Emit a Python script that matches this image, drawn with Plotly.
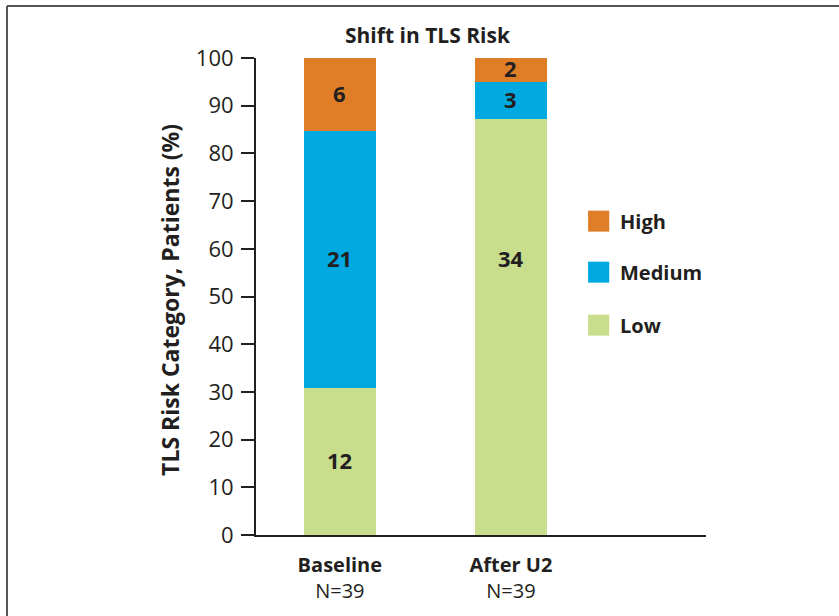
import plotly.graph_objects as go

# Patient counts by TLS risk category
categories = ["Baseline", "After U2"]
n_patients = [39, 39]
risk_levels = ["Low", "Medium", "High"]
counts = {
    "Low": [12, 34],
    "Medium": [21, 3],
    "High": [6, 2],
}
colors = {"Low": "#C8DE8C", "Medium": "#00A9DF", "High": "#E07E28"}

TEXT = "#231F20"
FONT = "Open Sans"

fig = go.Figure()

# percentage of patients in each risk category
pct = {lvl: [c / n * 100 for c, n in zip(counts[lvl], n_patients)] for lvl in risk_levels}

for lvl in risk_levels:
    fig.add_trace(go.Bar(
        x=categories, y=pct[lvl], name=lvl,
        marker=dict(color=colors[lvl], line=dict(width=0)),
        width=0.42, showlegend=False, hoverinfo="skip",
    ))

# segment centres for the count labels
centres = {}
for i, cat in enumerate(categories):
    base = 0
    for lvl in risk_levels:
        h = pct[lvl][i]
        centres[(cat, lvl)] = base + h / 2
        base += h
# the tall Low segment of the second bar carries its label level with the
# Baseline Medium label
centres[("After U2", "Low")] = centres[("Baseline", "Medium")]

for i, cat in enumerate(categories):
    for lvl in risk_levels:
        fig.add_annotation(
            x=cat, y=centres[(cat, lvl)], xref="x", yref="y",
            text=f"<b>{counts[lvl][i]}</b>", showarrow=False, yshift=2,
            font=dict(family=FONT, size=22, color=TEXT),
        )

# legend: coloured squares with labels, High on top
legend_rows = ["High", "Medium", "Low"]
leg_y = [0.658, 0.551, 0.440]
for lvl, yy in zip(legend_rows, leg_y):
    fig.add_shape(type="rect", xref="paper", yref="paper",
                  x0=0.738, x1=0.785, y0=yy - 0.022, y1=yy + 0.022,
                  fillcolor=colors[lvl], line=dict(width=0))
    fig.add_annotation(x=0.804, y=yy, xref="paper", yref="paper",
                       text=f"<b>{lvl}</b>", showarrow=False,
                       xanchor="left", yanchor="middle",
                       font=dict(family=FONT, size=20, color=TEXT))

# chart title
fig.add_annotation(x=0.382, y=1.048, xref="paper", yref="paper",
                   text="<b>Shift in TLS Risk</b>", showarrow=False,
                   xanchor="center", yanchor="middle",
                   font=dict(family=FONT, size=21, color=TEXT))

# y-axis title
fig.add_annotation(x=-0.191, y=0.493, xref="paper", yref="paper",
                   text="<b>TLS Risk Category, Patients (%)</b>", showarrow=False,
                   textangle=-90, xanchor="center", yanchor="middle",
                   font=dict(family=FONT, size=23, color=TEXT))

# frame lines along the top and left edges
fig.add_shape(type="line", xref="paper", yref="paper",
              x0=-0.5533, x1=1.4, y0=1.109, y1=1.109,
              line=dict(color="#555555", width=2))
fig.add_shape(type="line", xref="paper", yref="paper",
              x0=-0.5533, x1=-0.5533, y0=1.109, y1=-0.3,
              line=dict(color="#555555", width=2))

ticktext = [f"<b>{c}</b><br>N={n}" for c, n in zip(categories, n_patients)]

fig.update_layout(
    width=839, height=616,
    margin=dict(l=256, r=133, t=58, b=81),
    paper_bgcolor="white", plot_bgcolor="white",
    barmode="stack", bargap=0,
    font=dict(family=FONT, color=TEXT),
    xaxis=dict(
        type="category", range=[-0.49, 2.14],
        tickmode="array", tickvals=categories, ticktext=ticktext,
        tickfont=dict(family=FONT, size=20, color=TEXT),
        showline=True, linecolor=TEXT, linewidth=2,
        ticks="", showgrid=False, zeroline=False,
        ticklabelstandoff=11,
    ),
    yaxis=dict(
        range=[0, 100], tickvals=list(range(0, 101, 10)),
        tickfont=dict(family=FONT, size=22, color=TEXT),
        showline=True, linecolor=TEXT, linewidth=2,
        ticks="outside", ticklen=13, tickwidth=2, tickcolor=TEXT,
        showgrid=False, zeroline=False,
        ticklabelstandoff=3,
    ),
)

fig.write_html("out.html")
